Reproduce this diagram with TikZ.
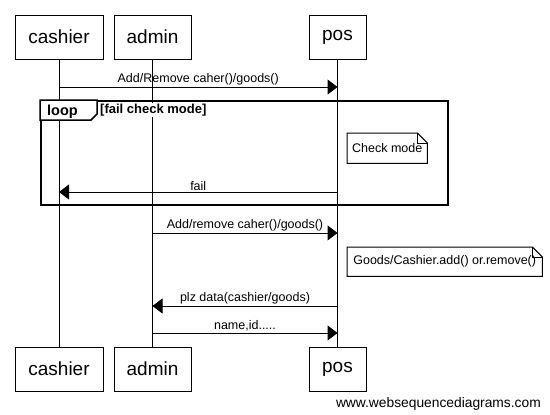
\documentclass[tikz,border=0pt]{standalone}
\usepackage{fontspec}
\setmainfont{Liberation Sans}
\usetikzlibrary{arrows.meta, positioning}

\begin{document}
\begin{tikzpicture}[x=1pt, y=-1pt, >={Triangle[length=10pt,width=15pt]}, font=\fontsize{12.5}{14}\selectfont,
    actor/.style={draw, rectangle, line width=1pt, minimum height=44pt, inner sep=0pt, font=\fontsize{19}{22}\selectfont},
    msg/.style={->, line width=1pt},
    lbl/.style={above, inner sep=1pt},
    notebox/.style={inner sep=0pt, minimum height=30pt, anchor=north west}]

        \useasboundingbox (0,0) rectangle (550,415);

        % participants
        \node (cashier) at (59,37) [actor, minimum width=88pt] {cashier};
        \node (admin) at (152.5,37) [actor, minimum width=77pt] {admin};
        \node (pos) at (337.5,37) [actor, minimum width=57pt] {pos};
        \node (cashierB) at (59,369) [actor, minimum width=88pt] {cashier};
        \node (adminB) at (152.5,369) [actor, minimum width=77pt] {admin};
        \node (posB) at (337.5,369) [actor, minimum width=57pt] {pos};

        % lifelines
        \draw[line width=1pt] (cashier) -- (cashierB);
        \draw[line width=1pt] (admin) -- (adminB);
        \draw[line width=1pt] (pos) -- (posB);

        % loop frame
        \node (loop) at (40,100) [draw, line width=2pt, anchor=north west, inner sep=0pt, minimum width=407pt, minimum height=104pt] {};
        \draw[fill=white, line width=1.5pt] (loop.north west) -- ++(57,0) -- ++(0,14) -- ++(-6,6) -- ++(-51,0) -- cycle;
        \node (looptag) at (47,115) [anchor=base west, inner sep=0pt, font=\bfseries\fontsize{14.5}{16}\selectfont] {loop};
        \node (guard) at (99,113) [anchor=base west, inner sep=1pt, fill=white, font=\bfseries\fontsize{13}{15}\selectfont] {[fail check mode]};

        % notes
        \node (chk) at (347,133) [notebox, minimum width=80pt] {Check mode};
        \draw[line width=1pt] (chk.north west) -- ([xshift=-10pt]chk.north east) -- ([yshift=-10pt]chk.north east) -- (chk.south east) -- (chk.south west) -- cycle;
        \draw[line width=1pt] ([xshift=-10pt]chk.north east) -- ([xshift=-10pt,yshift=-10pt]chk.north east) -- ([yshift=-10pt]chk.north east);
        \node (upd) at (347,247) [notebox, minimum width=195pt, minimum height=29pt] {Goods/Cashier.add() or.remove()};
        \draw[line width=1pt] (upd.north west) -- ([xshift=-10pt]upd.north east) -- ([yshift=-10pt]upd.north east) -- (upd.south east) -- (upd.south west) -- cycle;
        \draw[line width=1pt] ([xshift=-10pt]upd.north east) -- ([xshift=-10pt,yshift=-10pt]upd.north east) -- ([yshift=-10pt]upd.north east);

        % messages
        \coordinate (m1) at (0,87);
        \coordinate (m2) at (0,192);
        \coordinate (m3) at (0,233);
        \coordinate (m4) at (0,306);
        \coordinate (m5) at (0,333);
        \draw[msg] (cashier |- m1) -- node[lbl] {Add/Remove caher()/goods()} (pos |- m1);
        \draw[msg] (pos |- m2) -- node[lbl] {fail} (cashier |- m2);
        \draw[msg] (admin |- m3) -- node[lbl] {Add/remove caher()/goods()} (pos |- m3);
        \draw[msg] (pos |- m4) -- node[lbl] {plz data(cashier/goods)} (admin |- m4);
        \draw[msg] (admin |- m5) -- node[lbl] {name,id.....} (pos |- m5);

        \node (wsd) at (541,407) [anchor=base east, inner sep=0pt, font=\fontsize{13.8}{15}\selectfont] {www.websequencediagrams.com};
    \end{tikzpicture}
\end{document}
